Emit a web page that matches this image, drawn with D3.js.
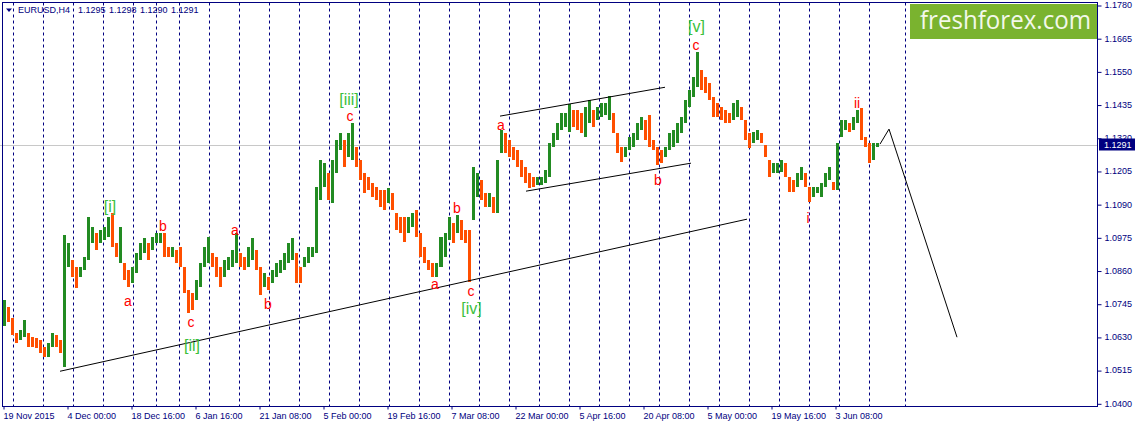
<!DOCTYPE html>
<html><head><meta charset="utf-8">
<script src="https://cdn.jsdelivr.net/npm/d3@7"></script>
<style>html,body{margin:0;padding:0;background:#fff;overflow:hidden}</style>
</head><body>
<svg id="c" width="1137" height="427"></svg>
<script>
// ---------- data ----------
const symbol = "EURUSD,H4";
const lastBar = [1.1295, 1.1298, 1.1290, 1.1291]; // O H L C
const bidPrice = 1.1291;
// each entry = one group of 4 H4 bars (high / low of the group)
const highs = [
1.0757,1.0733,1.0695,1.0643,1.0653,1.0688,1.0643,1.0629,1.0625,1.0618,
1.0594,1.0608,1.0643,1.0636,1.0618,1.0982,1.0955,1.0896,1.0871,1.0871,
1.0906,1.1045,1.1010,1.0989,1.1000,1.1010,1.1045,1.1059,1.0955,1.1010,
1.0885,1.0861,1.0871,1.0920,1.0955,1.0972,1.0955,1.0975,1.0989,1.0989,
1.0989,1.0941,1.0941,1.0930,1.0941,1.0871,1.0792,1.0781,1.0826,1.0885,
1.0941,1.0975,1.0920,1.0906,1.0871,1.0896,1.0906,1.0930,1.0989,1.0920,
1.0906,1.0941,1.0972,1.0930,1.0871,1.0851,1.0837,1.0861,1.0885,1.0896,
1.0920,1.0955,1.0972,1.0920,1.0871,1.0906,1.0941,1.0941,1.1149,1.1242,
1.1232,1.1197,1.1242,1.1312,1.1336,1.1312,1.1336,1.1371,1.1287,1.1242,
1.1197,1.1183,1.1163,1.1149,1.1138,1.1138,1.1145,1.1128,1.1059,1.1045,
1.1045,1.1045,1.1059,1.1069,1.0989,1.0941,1.0896,1.0885,1.0885,1.0975,
1.0989,1.1045,1.1024,1.1052,1.1034,1.1000,1.1000,1.1218,1.1197,1.1173,
1.1128,1.1128,1.1114,1.1242,1.1346,1.1336,1.1312,1.1287,1.1277,1.1242,
1.1218,1.1197,1.1183,1.1183,1.1183,1.1208,1.1301,1.1336,1.1371,1.1405,
1.1405,1.1436,1.1416,1.1416,1.1405,1.1426,1.1450,1.1416,1.1426,1.1440,
1.1440,1.1464,1.1405,1.1336,1.1287,1.1287,1.1322,1.1336,1.1371,1.1391,
1.1381,1.1398,1.1312,1.1287,1.1277,1.1287,1.1336,1.1346,1.1371,1.1391,
1.1450,1.1485,1.1530,1.1617,1.1554,1.1530,1.1509,1.1461,1.1440,1.1426,
1.1416,1.1405,1.1440,1.1450,1.1426,1.1381,1.1336,1.1339,1.1346,1.1336,
1.1294,1.1242,1.1232,1.1232,1.1242,1.1232,1.1183,1.1173,1.1197,1.1218,
1.1197,1.1149,1.1149,1.1149,1.1163,1.1197,1.1218,1.1166,1.1301,1.1381,
1.1381,1.1371,1.1391,1.1416,1.1423,1.1322,1.1301,1.1301,1.1301];
const lows = [
1.0667,1.0681,1.0636,1.0608,1.0618,1.0629,1.0594,1.0594,1.0591,1.0573,
1.0559,1.0559,1.0594,1.0594,1.0573,1.0525,1.0871,1.0837,1.0799,1.0837,
1.0861,1.0896,1.0955,1.0930,1.0955,1.0965,1.0975,1.0941,1.0906,1.0885,
1.0826,1.0802,1.0816,1.0851,1.0896,1.0920,1.0896,1.0930,1.0955,1.0955,
1.0906,1.0906,1.0906,1.0885,1.0871,1.0781,1.0712,1.0722,1.0757,1.0802,
1.0871,1.0885,1.0871,1.0837,1.0802,1.0837,1.0861,1.0871,1.0885,1.0871,
1.0861,1.0871,1.0896,1.0861,1.0774,1.0802,1.0792,1.0816,1.0837,1.0851,
1.0861,1.0885,1.0896,1.0816,1.0816,1.0871,1.0885,1.0906,1.0920,1.1104,
1.1149,1.1104,1.1093,1.1197,1.1277,1.1218,1.1253,1.1242,1.1218,1.1173,
1.1128,1.1138,1.1114,1.1104,1.1079,1.1069,1.1093,1.1069,1.1000,1.0989,
1.0958,1.0989,1.1010,1.0975,1.0906,1.0885,1.0861,1.0837,1.0837,1.0871,
1.0906,1.0965,1.0955,1.0989,1.0965,1.0955,1.0819,1.1034,1.1114,1.1104,
1.1079,1.1079,1.1059,1.1059,1.1267,1.1267,1.1253,1.1242,1.1218,1.1183,
1.1163,1.1145,1.1149,1.1156,1.1156,1.1163,1.1183,1.1287,1.1312,1.1346,
1.1357,1.1339,1.1357,1.1346,1.1336,1.1322,1.1371,1.1357,1.1381,1.1391,
1.1398,1.1381,1.1336,1.1267,1.1235,1.1253,1.1277,1.1287,1.1312,1.1346,
1.1312,1.1287,1.1277,1.1225,1.1232,1.1253,1.1277,1.1287,1.1301,1.1336,
1.1371,1.1426,1.1461,1.1495,1.1485,1.1475,1.1450,1.1391,1.1391,1.1381,
1.1371,1.1371,1.1381,1.1391,1.1381,1.1312,1.1284,1.1301,1.1312,1.1301,
1.1253,1.1183,1.1197,1.1197,1.1201,1.1183,1.1131,1.1131,1.1149,1.1173,
1.1149,1.1097,1.1114,1.1128,1.1114,1.1149,1.1173,1.1138,1.1138,1.1322,
1.1346,1.1339,1.1346,1.1371,1.1312,1.1287,1.1232,1.1242,1.1287];
const barsPerGroup = 4;
const priceTicks = [1.1780,1.1665,1.1550,1.1435,1.1320,1.1205,1.1090,1.0975,1.0860,1.0745,1.0630,1.0515,1.0400];
const timeTickBars = [0,64,128,192,256,320,384,448,512,576,640,704,768,832];
const timeTickLabels = ["19 Nov 2015","4 Dec 00:00","18 Dec 16:00","6 Jan 16:00","21 Jan 08:00","5 Feb 00:00","19 Feb 16:00","7 Mar 08:00","22 Mar 00:00","5 Apr 16:00","20 Apr 08:00","5 May 00:00","19 May 16:00","3 Jun 08:00"];
const weekSeparatorBars = [10,40,70,100,130,153,176,206,236,266,296,326,356,386,416,446,476,506,536,566,596,626,656,686,716,746,776,806,836,866,902];
// trend lines: [bar, price] pairs
const supportLine = [[57,1.0511],[744,1.1038]];
const channelTop = [[497,1.1395],[662,1.1495]];
const channelBottom = [[523,1.1135],[688,1.1232]];
const forecastPath = [[877,1.1298],[886,1.1350],[954,1.0629]];
// wave labels: [text, bar, baseline price]
const minorLabels = [
 ["a",125,1.0736],["b",160,1.0996],["c",188,1.0663],["a",232,1.0982],["b",265,1.0726],
 ["c",347,1.1377],["a",432,1.0795],["b",454,1.1059],["c",468,1.0771],["a",498,1.1346],
 ["b",655,1.1156],["c",693,1.1624],["i",805,1.1024],["ii",854,1.1423]];
const majorLabels = [
 ["[i]",107,1.1064],["[ii]",189,1.0582],["[iii]",346,1.1434],["[iv]",468.5,1.0711],["[v]",693.5,1.1686]];
const brand = "freshforex.com";

// ---------- drawing ----------
const L = 2.5, T = 2.5, R = 1097.5, B = 406.5;
const NAVY = "#000080", FONT = "'Liberation Sans', Arial, sans-serif";
const svg = d3.select("#c");

const x = d3.scaleLinear().domain([0, 1095]).range([3, 1098]);
const y = d3.scaleLinear().domain([1.0400, 1.1780]).range([403.3, 5]);
const band = d3.scaleBand().domain(d3.range(highs.length))
  .range([x(0), x(highs.length * barsPerGroup)]).paddingInner(0.25).paddingOuter(0);
const px = v => Math.round(v) + 0.5;

// week separators
svg.append("g").selectAll("line").data(weekSeparatorBars).join("line")
  .attr("x1", d => px(x(d))).attr("x2", d => px(x(d)))
  .attr("y1", T).attr("y2", B)
  .attr("stroke", NAVY).attr("stroke-width", 1).attr("stroke-dasharray", "3,3");

// bid line
svg.append("line").attr("x1", 0).attr("x2", R).attr("y1", px(y(bidPrice)) - 1).attr("y2", px(y(bidPrice)) - 1)
  .attr("stroke", "#c8c8c8").attr("stroke-width", 1);

// bars
const mids = highs.map((h, i) => (h + lows[i]) / 2);
svg.append("g").attr("shape-rendering", "crispEdges").selectAll("rect").data(highs).join("rect")
  .attr("x", (d, i) => band(i))
  .attr("width", band.bandwidth())
  .attr("y", d => y(d))
  .attr("height", (d, i) => Math.max(1, y(lows[i]) - y(d)))
  .attr("fill", (d, i) => (i === 0 || mids[i] >= mids[i - 1]) ? "#228b22" : "#ff4f00");

// trend lines
const line = d3.line().x(d => x(d[0])).y(d => y(d[1]));
[supportLine, channelTop, channelBottom, forecastPath].forEach(p => {
  svg.append("path").attr("d", line(p)).attr("fill", "none").attr("stroke", "#000").attr("stroke-width", 1);
});

// wave labels
svg.append("g").selectAll("text").data(minorLabels).join("text")
  .attr("x", d => x(d[1])).attr("y", d => y(d[2]))
  .attr("text-anchor", "middle").attr("font-family", FONT).attr("font-size", 14)
  .attr("fill", "#ff0000").text(d => d[0]);
svg.append("g").selectAll("text").data(majorLabels).join("text")
  .attr("x", d => x(d[1])).attr("y", d => y(d[2]))
  .attr("text-anchor", "middle").attr("font-family", FONT).attr("font-size", 16)
  .attr("fill", "#3cbf3c").text(d => d[0]);

// frame
svg.append("rect").attr("x", L).attr("y", T).attr("width", R - L).attr("height", B - T)
  .attr("fill", "none").attr("stroke", NAVY).attr("stroke-width", 1);

// price axis
const yAxis = d3.axisRight(y).tickValues(priceTicks).tickFormat(d3.format(".4f")).tickSize(4).tickPadding(3);
const gy = svg.append("g").attr("transform", `translate(${R},0)`).call(yAxis);
gy.select(".domain").remove();
gy.selectAll("line").attr("stroke", NAVY).attr("transform", "translate(0,0.5)");
gy.selectAll("text").attr("fill", NAVY).attr("font-family", FONT).attr("font-size", 9);

// time axis
const xAxis = d3.axisBottom(x).tickValues(timeTickBars).tickFormat((d, i) => timeTickLabels[i]).tickSize(3).tickPadding(3);
const gx = svg.append("g").attr("transform", `translate(0.5,${B})`).call(xAxis);
gx.select(".domain").remove();
gx.selectAll("line").attr("stroke", NAVY);
gx.selectAll("text").attr("fill", NAVY).attr("font-family", FONT).attr("font-size", 9)
  .attr("text-anchor", "start").attr("dx", -0.5);

// current price box
const by = y(bidPrice);
svg.append("rect").attr("x", R + 1.5).attr("y", Math.round(by) - 7.5).attr("width", 36).attr("height", 12).attr("fill", NAVY);
svg.append("text").attr("x", R + 6.5).attr("y", by - 1).attr("dy", "0.34em")
  .attr("fill", "#fff").attr("font-family", FONT).attr("font-size", 9).text(d3.format(".4f")(bidPrice));

// title
svg.append("path").attr("d", "M6,8.5 L12,8.5 L9,12 Z").attr("fill", NAVY);
svg.append("text").attr("x", 18).attr("y", 12.5).attr("font-family", FONT).attr("font-size", 9)
  .attr("fill", NAVY).text(symbol);
svg.append("text").attr("x", 78).attr("y", 12.5).attr("font-family", FONT).attr("font-size", 9)
  .attr("fill", NAVY).attr("word-spacing", 1).text(lastBar.map(d3.format(".4f")).join(" "));

// brand
svg.append("rect").attr("x", 910).attr("y", 4).attr("width", 187).attr("height", 35).attr("fill", "#7ab32f");
svg.append("text").attr("x", 920).attr("y", 29).attr("font-family", "'Open Sans', sans-serif")
  .attr("font-size", 25).attr("fill", "#f3f8ea").attr("textLength", 171).attr("lengthAdjust", "spacingAndGlyphs")
  .text(brand);
</script>
</body></html>
